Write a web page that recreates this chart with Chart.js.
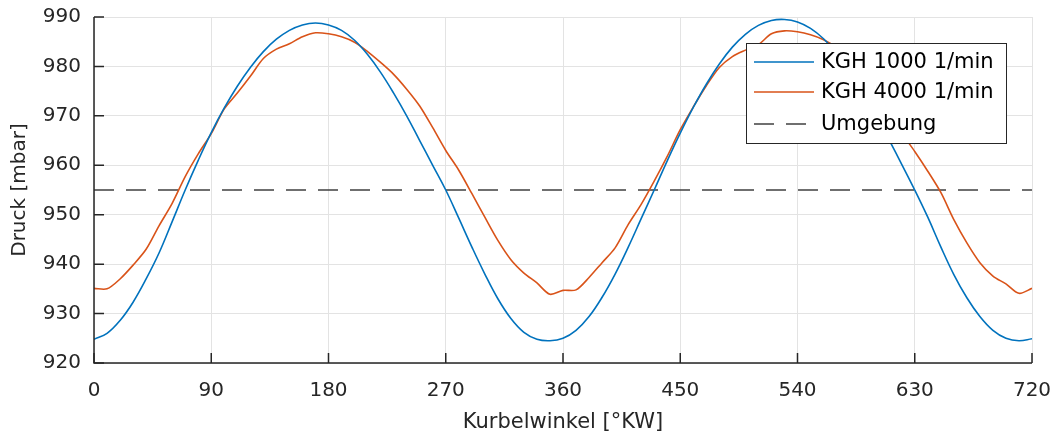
<!DOCTYPE html>
<html>
<head>
<meta charset="utf-8">
<script src="https://cdn.jsdelivr.net/npm/chart.js@4.4.1/dist/chart.umd.min.js"></script>
<style>
  html, body { margin: 0; padding: 0; background: #fff; }
</style>
</head>
<body>
<canvas id="chart" width="1052" height="436"></canvas>
<script>
// Kurbelwinkel in °KW
const winkel = [0,10,20,30,40,50,60,70,80,90,100,110,120,130,140,150,160,170,180,
  190,200,210,220,230,240,250,260,270,280,290,300,310,320,330,340,350,360,
  370,380,390,400,410,420,430,440,450,460,470,480,490,500,510,520,530,540,
  550,560,570,580,590,600,610,620,630,640,650,660,670,680,690,700,710,720];

// Druck in mbar
const kgh1000 = [924.8,926.0,928.6,932.3,937.0,942.3,948.6,955.0,961.0,966.6,971.6,976.0,979.8,983.0,985.5,987.3,988.4,988.8,988.4,
  987.3,985.3,982.4,978.8,974.6,970.0,965.0,960.0,955.0,949.3,943.5,938.0,933.0,929.0,926.2,924.8,924.5,925.0,
  926.6,929.4,933.3,938.0,943.4,949.2,955.0,960.9,966.5,971.7,976.4,980.5,983.9,986.5,988.3,989.3,989.5,989.0,
  987.7,985.6,982.7,979.1,974.9,970.3,965.3,960.2,955.0,949.5,943.5,937.9,933.2,929.4,926.6,925.0,924.5,924.9];

const kgh4000 = [935.1,935.0,937.0,939.8,943.0,947.8,952.3,957.7,962.3,966.4,971.4,974.6,978.0,981.6,983.5,984.6,986.0,986.8,986.6,
  986.0,984.9,983.0,980.8,978.4,975.4,972.0,967.6,963.0,959.0,954.3,949.5,944.8,940.9,938.2,936.2,933.9,934.7,
  934.8,937.3,940.3,943.3,948.0,952.1,956.8,961.8,967.2,971.8,976.1,979.8,982.0,983.3,984.4,986.6,987.2,987.0,
  986.4,985.4,983.8,981.2,978.5,975.0,970.8,966.5,962.8,958.8,954.5,949.0,944.3,940.3,937.6,936.0,934.1,935.1];

const umgebungWinkel = [0, 720];
const umgebungDruck = [955, 955];

const xTicks = [0, 90, 180, 270, 360, 450, 540, 630, 720];
const yTicks = [920, 930, 940, 950, 960, 970, 980, 990];

const textColor = '#262626';
const fontFamily = '"DejaVu Sans", "Liberation Sans", Arial, sans-serif';

function toPoints(xs, ys) {
  return xs.map((x, i) => ({ x: x, y: ys[i] }));
}

// MATLAB-like axes: inward ticks plus a legend box inside the plot
const matlabAxes = {
  id: 'matlabAxes',
  afterDatasetsDraw(chart) {
    const ctx = chart.ctx;
    const area = chart.chartArea;
    const xs = chart.scales.x;
    const ys = chart.scales.y;
    ctx.save();
    ctx.strokeStyle = textColor;
    ctx.lineWidth = 1.5;
    ctx.beginPath();
    ctx.moveTo(area.left, area.top);
    ctx.lineTo(area.left, area.bottom);
    ctx.lineTo(area.right, area.bottom);
    ctx.stroke();
    ctx.beginPath();
    xTicks.forEach(v => {
      const px = xs.getPixelForValue(v);
      ctx.moveTo(px, area.bottom);
      ctx.lineTo(px, area.bottom - 10);
    });
    yTicks.forEach(v => {
      const py = ys.getPixelForValue(v);
      ctx.moveTo(area.left, py);
      ctx.lineTo(area.left + 10, py);
    });
    ctx.stroke();

    // legend
    const lx = 746, ly = 43, lw = 260, lh = 100;
    ctx.fillStyle = '#fff';
    ctx.fillRect(lx, ly, lw, lh);
    ctx.lineWidth = 1;
    ctx.strokeStyle = '#262626';
    ctx.strokeRect(lx + 0.5, ly + 0.5, lw, lh);
    const rows = [62, 92, 124];
    ctx.font = '21px ' + fontFamily;
    ctx.textBaseline = 'middle';
    ctx.textAlign = 'left';
    chart.data.datasets.forEach((ds, i) => {
      const y = rows[i];
      ctx.strokeStyle = ds.borderColor;
      ctx.lineWidth = ds.borderWidth;
      ctx.setLineDash(ds.borderDash || []);
      ctx.beginPath();
      ctx.moveTo(754, y);
      ctx.lineTo(814, y);
      ctx.stroke();
      ctx.setLineDash([]);
      ctx.fillStyle = '#000';
      ctx.fillText(ds.label, 821, y + 1);
    });
    ctx.restore();
  }
};

new Chart(document.getElementById('chart'), {
  type: 'line',
  data: {
    datasets: [
      {
        label: 'KGH 1000 1/min',
        data: toPoints(winkel, kgh1000),
        borderColor: '#0072BD',
        borderWidth: 1.6,
        pointRadius: 0,
        tension: 0.4,
      },
      {
        label: 'KGH 4000 1/min',
        data: toPoints(winkel, kgh4000),
        borderColor: '#D95319',
        borderWidth: 1.6,
        pointRadius: 0,
        tension: 0.3,
      },
      {
        label: 'Umgebung',
        data: toPoints(umgebungWinkel, umgebungDruck),
        borderColor: '#404040',
        borderWidth: 1.3,
        borderDash: [20, 12],
        pointRadius: 0,
      },
    ],
  },
  options: {
    responsive: false,
    animation: false,
    layout: { padding: { top: 17, right: 20, left: 0, bottom: 0 } },
    plugins: {
      legend: { display: false },
      tooltip: { enabled: false },
    },
    scales: {
      x: {
        type: 'linear',
        min: 0,
        max: 720,
        afterBuildTicks: (s) => { s.ticks = xTicks.map(v => ({ value: v })); },
        afterFit: (s) => { s.height = 73; s.paddingLeft = 0; s.paddingRight = 0; },
        ticks: { color: textColor, font: { family: fontFamily, size: 20 }, padding: 16, maxRotation: 0 },
        grid: { color: '#e3e3e3', drawTicks: false },
        border: { display: false },
        title: {
          display: true,
          text: 'Kurbelwinkel [°KW]',
          color: textColor,
          font: { family: fontFamily, size: 21 },
          padding: { top: 0, bottom: 1 },
        },
      },
      y: {
        min: 920,
        max: 990,
        afterBuildTicks: (s) => { s.ticks = yTicks.map(v => ({ value: v })); },
        afterFit: (s) => { s.width = 94; s.paddingTop = 0; s.paddingBottom = 0; },
        ticks: { color: textColor, font: { family: fontFamily, size: 20 }, padding: 13 },
        grid: { color: '#e3e3e3', drawTicks: false },
        border: { display: false },
        title: {
          display: true,
          text: 'Druck [mbar]',
          color: textColor,
          font: { family: fontFamily, size: 20 },
          padding: { top: 8, bottom: 0 },
        },
      },
    },
  },
  plugins: [matlabAxes],
});
</script>
</body>
</html>
